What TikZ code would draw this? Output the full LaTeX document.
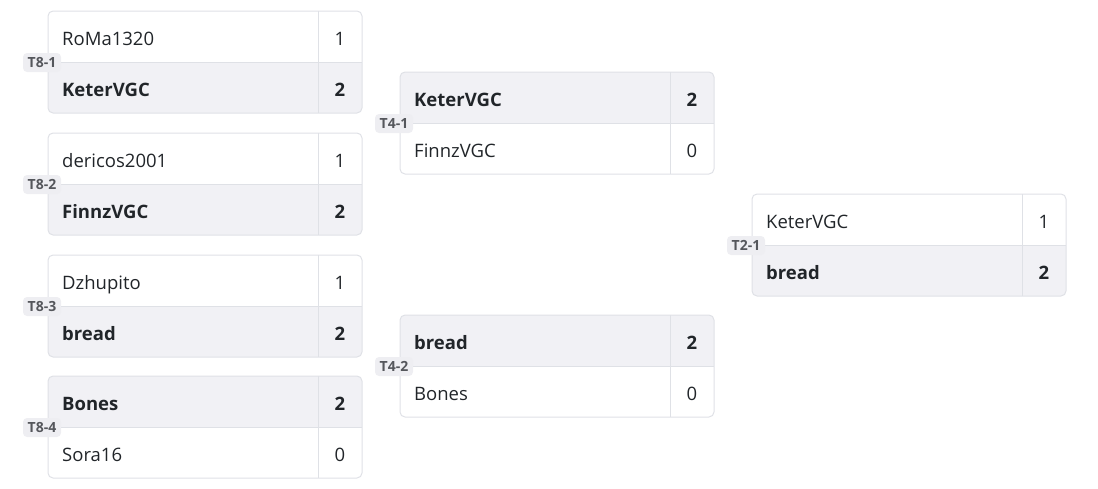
\documentclass[tikz,border=0pt]{standalone}
\usepackage{fontspec}
\setmainfont{Open Sans}
\definecolor{bordc}{HTML}{DFE1E6}
\definecolor{winc}{HTML}{F1F1F5}
\definecolor{txtc}{HTML}{212529}
\definecolor{labc}{HTML}{55575C}
\definecolor{labbg}{HTML}{EEEEF2}
\tikzset{
  player/.style={anchor=base west, inner sep=0pt, text=txtc, font=\fontsize{18.5}{20}\selectfont},
  score/.style={anchor=base, inner sep=0pt, text=txtc, font=\fontsize{18.5}{20}\selectfont},
  win/.style={font=\fontsize{18.5}{20}\selectfont\bfseries},
  tag/.style={fill=labbg, rounded corners=4pt, minimum width=38pt, minimum height=19pt, inner sep=0pt, text=labc, font=\fontsize{14}{15}\selectfont\bfseries},
  frame/.style={draw=bordc, line width=1pt, rounded corners=5pt},
  rule/.style={draw=bordc, line width=1pt}
}
% #1 id, #2 x, #3 y, #4 label, #5 p1, #6 s1, #7 p2, #8 s2, #9 winner row (1/2)
\newcommand\bmatch[9]{%
  \begin{scope}
    \clip[rounded corners=5pt] (#2,#3) rectangle ++(314,102);
    \ifnum#9=1
      \fill[winc] (#2,#3) rectangle ++(314,51);
    \else
      \fill[winc] (#2,#3+51) rectangle ++(314,51);
    \fi
  \end{scope}
  \path[frame] (#2,#3) rectangle ++(314,102);
  \path[rule] (#2,#3+51) -- ++(314,0);
  \path[rule] (#2+270,#3) -- ++(0,102);
  \ifnum#9=1
    \node[player,win] (#1p1) at (#2+14,#3+34.5) {#5};
    \node[score,win] (#1s1) at (#2+292,#3+34.5) {#6};
    \node[player] (#1p2) at (#2+14,#3+85.5) {#7};
    \node[score] (#1s2) at (#2+292,#3+85.5) {#8};
  \else
    \node[player] (#1p1) at (#2+14,#3+34.5) {#5};
    \node[score] (#1s1) at (#2+292,#3+34.5) {#6};
    \node[player,win] (#1p2) at (#2+14,#3+85.5) {#7};
    \node[score,win] (#1s2) at (#2+292,#3+85.5) {#8};
  \fi
  \node[tag] (#1tag) at (#2-6,#3+51.5) {#4};
}
\begin{document}
\begin{tikzpicture}[x=1pt,y=-1pt]
\useasboundingbox (0,0) rectangle (1098,488);
\bmatch{a}{48}{11}{T8-1}{RoMa1320}{1}{KeterVGC}{2}{2}
\bmatch{b}{48}{133}{T8-2}{dericos2001}{1}{FinnzVGC}{2}{2}
\bmatch{c}{48}{255}{T8-3}{Dzhupito}{1}{bread}{2}{2}
\bmatch{d}{48}{376}{T8-4}{Bones}{2}{Sora16}{0}{1}
\bmatch{e}{400}{72}{T4-1}{KeterVGC}{2}{FinnzVGC}{0}{1}
\bmatch{f}{400}{315}{T4-2}{bread}{2}{Bones}{0}{1}
\bmatch{g}{752}{194}{T2-1}{KeterVGC}{1}{bread}{2}{2}
\end{tikzpicture}
\end{document}
